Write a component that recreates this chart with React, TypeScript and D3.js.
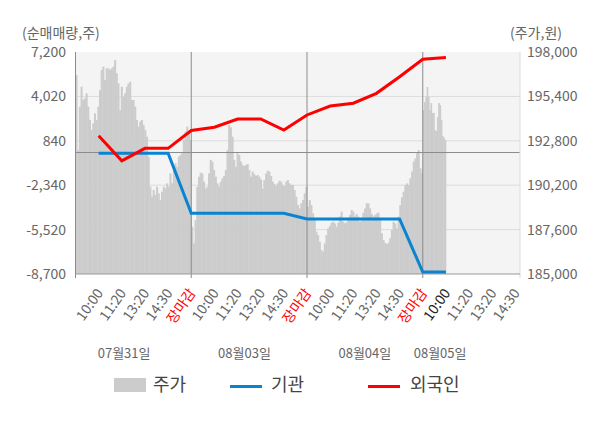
import React from "react";
import * as d3 from "d3";

const leftTicks = [7200, 4020, 840, -2340, -5520, -8700];
const rightTicks = [198000, 195400, 192800, 190200, 187600, 185000];
const timeLabels = [
  "10:00", "11:20", "13:20", "14:30", "장마감",
  "10:00", "11:20", "13:20", "14:30", "장마감",
  "10:00", "11:20", "13:20", "14:30", "장마감",
  "10:00", "11:20", "13:20", "14:30",
];
const currentLabelIndex = 15;
const dayLabels = ["07월31일", "08월03일", "08월04일", "08월05일"];
const dayLabelSlots = [2.1, 7.3, 12.5, 15.75];
const daySeparators = [5, 10, 15];

const foreign = [1200, -590, 300, 300, 1580, 1810, 2400, 2400, 1610, 2690, 3330, 3530, 4240, 5430, 6680, 6810];
const institution = [-50, -50, -50, -50, -4350, -4350, -4350, -4350, -4350, -4760, -4760, -4760, -4760, -4760, -8560, -8560];

const priceDay1 = [196650, 192260, 194800, 195970, 195190, 195290, 195580, 194800, 194020, 193430, 193820, 194410, 194020, 194800, 195770, 196950, 197140, 196360, 197040, 197040, 196950, 197040, 197140, 197530, 196750, 196160, 194600, 195970, 195380, 195580, 195970, 196160, 196260, 195190, 195190, 194800, 194020, 193630, 193920, 194020, 193730, 193430, 193040, 191870, 190110, 189530, 189920, 189630, 190110, 189720, 189330, 189820, 190110, 190010, 190310, 190110, 190890, 190310, 191090, 191480, 191280, 191870, 191970, 192070, 192850, 193330, 193630, 193240, 192850];
const priceDay2 = [187770, 186790, 188160, 190110, 190700, 190930, 190890, 190410, 190010, 190110, 190890, 191680, 191580, 191090, 190700, 190310, 190110, 190410, 190600, 190740, 191090, 192260, 193730, 193590, 193040, 191680, 191280, 192070, 191970, 191580, 191380, 191320, 191380, 191440, 191090, 190700, 190990, 190850, 190740, 190800, 190700, 190540, 190010, 190500, 190890, 191050, 190990, 190740, 190410, 190270, 190150, 190310, 190460, 190410, 190210, 190150, 190410, 190500, 190310, 190210, 190210, 189920, 189530, 189040, 188840, 189140, 189330, 189720, 190110];
const priceDay3 = [188940, 189330, 189040, 188550, 188160, 187480, 187280, 186890, 186400, 186310, 186790, 187280, 187670, 187810, 188000, 188060, 187970, 187770, 188000, 188360, 188650, 188060, 187970, 188020, 188160, 188450, 188750, 188650, 188360, 188510, 188360, 188060, 188260, 188590, 188840, 189140, 189140, 188840, 188510, 188360, 188450, 188550, 188590, 188160, 187380, 186990, 186830, 186750, 186830, 187090, 187570, 188060, 187970, 187670, 188360, 189040, 189490, 189820, 190210, 190310, 190210, 190600, 190990, 191580, 191770, 192070, 192260, 191190, 190890];
const priceDay4 = [194600, 195070, 195370, 195950, 195370, 194600, 195010, 194430, 194430, 193430, 193370, 194190, 195010, 194900, 194020, 193080, 192960, 192850];
const priceDays = [priceDay1, priceDay2, priceDay3, priceDay4];
const daySlotSpans = [5, 5, 5, 1];

const FONT = "'Noto Sans CJK KR', 'Noto Sans', sans-serif";

export default function App() {
  const left = 75.5, right = 520, top = 52, bottom = 274;
  const x = d3.scaleLinear().domain([0, 19.2]).range([left, right]);
  const yL = d3.scaleLinear().domain([-8700, 7200]).range([bottom, top]);
  const yR = d3.scaleLinear().domain([185000, 198000]).range([bottom, top]);

  const bars: { x: number; w: number; y: number }[] = [];
  priceDays.forEach((arr, d) => {
    const step = daySlotSpans[d] / arr.length;
    arr.forEach((p, i) => {
      const s = d * 5 + i * step;
      const x0 = x(s);
      const x1 = x(s + step);
      bars.push({ x: x0, w: x1 - x0 + 0.4, y: yR(p) });
    });
  });

  const line = d3
    .line<number>()
    .x((_, i) => x(i + 1))
    .y((v) => yL(v));

  return (
    <div>
      <style>{`body{margin:0}`}</style>
      <svg width={600} height={428} style={{ display: "block", fontFamily: FONT }}>
        <rect x={0} y={0} width={600} height={428} fill="#ffffff" />
        <rect x={x(0)} y={top} width={right - x(0)} height={bottom - top} fill="#f4f4f4" />
        {leftTicks.slice(1, -1).map((t) => (
          <line key={t} x1={x(0)} x2={right} y1={yL(t)} y2={yL(t)} stroke="#dcdcdc" strokeWidth={1} />
        ))}
        {bars.map((b, i) => (
          <rect key={i} x={b.x} y={b.y} width={b.w} height={bottom - b.y} fill="#cccccc" />
        ))}
        <line x1={x(0)} x2={right} y1={yL(0)} y2={yL(0)} stroke="#8c8c8c" strokeWidth={1} />
        {daySeparators.map((s) => (
          <line key={s} x1={x(s)} x2={x(s)} y1={top} y2={bottom + 4} stroke="#8c8c8c" strokeWidth={1} />
        ))}
        <line x1={right} x2={right} y1={top} y2={bottom + 4} stroke="#dcdcdc" strokeWidth={1} />
        <line x1={x(0)} x2={x(0)} y1={top} y2={bottom + 4} stroke="#8c8c8c" strokeWidth={1} />
        <line x1={x(0)} x2={right} y1={bottom} y2={bottom} stroke="#9a9a9a" strokeWidth={1} />

        <path d={line(institution) || ""} fill="none" stroke="#0a84d0" strokeWidth={3} />
        <path d={line(foreign) || ""} fill="none" stroke="#ff0000" strokeWidth={3} />

        {leftTicks.map((t) => (
          <text key={t} x={66} y={yL(t)} dy="0.35em" textAnchor="end" fontSize={14} fill="#666">
            {d3.format(",")(t).replace("−", "-")}
          </text>
        ))}
        {rightTicks.map((t) => (
          <text key={t} x={527} y={yR(t)} dy="0.35em" textAnchor="start" fontSize={14} fill="#666">
            {d3.format(",")(t)}
          </text>
        ))}
        <text x={22} y={33} dy="0.35em" fontSize={14} fill="#666">(순매매량,주)</text>
        <text x={510} y={33} dy="0.35em" fontSize={14} fill="#666">(주가,원)</text>

        {timeLabels.map((l, i) => {
          const tx = x(i + 1) + 5;
          const color = l === "장마감" ? "#ff0000" : i === currentLabelIndex ? "#222" : "#666";
          return (
            <text key={i} transform={`translate(${tx},${293}) rotate(-55)`} textAnchor="end" fontSize={14} fill={color}>
              {l}
            </text>
          );
        })}
        {dayLabels.map((l, i) => (
          <text key={l} x={x(dayLabelSlots[i])} y={353} dy="0.35em" textAnchor="middle" fontSize={13} fill="#666">
            {l}
          </text>
        ))}

        <rect x={114} y={378} width={32} height={14} fill="#cccccc" />
        <text x={153} y={385} dy="0.35em" fontSize={18} fill="#444">주가</text>
        <line x1={230} x2={262} y1={386.5} y2={386.5} stroke="#0a84d0" strokeWidth={3} />
        <text x={271} y={385} dy="0.35em" fontSize={18} fill="#444">기관</text>
        <line x1={368} x2={400} y1={386.5} y2={386.5} stroke="#ff0000" strokeWidth={3} />
        <text x={410} y={385} dy="0.35em" fontSize={18} fill="#444">외국인</text>
      </svg>
    </div>
  );
}
